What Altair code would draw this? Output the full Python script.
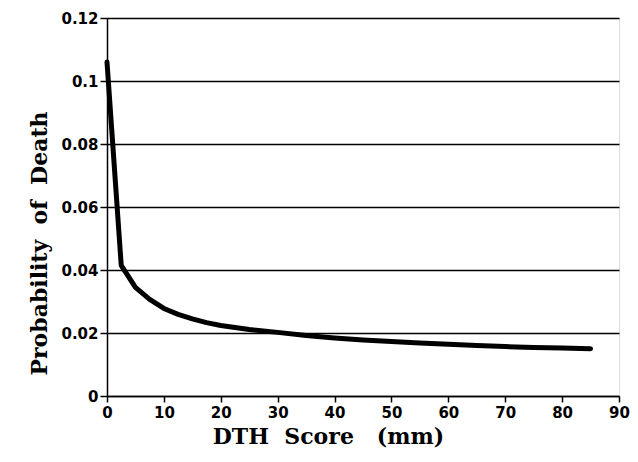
import altair as alt
import pandas as pd

dth_score = [0, 2.5, 5, 7.5, 10, 12.5, 15, 17.5, 20, 25, 30, 35, 40, 45, 50, 55, 60, 65, 70, 75, 80, 85]
prob_death = [0.106, 0.0415, 0.0345, 0.0307, 0.0278, 0.0259, 0.0245, 0.0233, 0.0224, 0.0211, 0.0202,
              0.0192, 0.0184, 0.0178, 0.0173, 0.0168, 0.0164, 0.0160, 0.0157, 0.0154, 0.0152, 0.0150]
x_ticks = [0, 10, 20, 30, 40, 50, 60, 70, 80, 90]
y_ticks = [0, 0.02, 0.04, 0.06, 0.08, 0.1, 0.12]
x_title = "DTH\u00a0\u00a0Score\u00a0\u00a0\u00a0(mm)"
y_title = "Probability\u00a0\u00a0of\u00a0\u00a0Death"

df = pd.DataFrame({"x": dth_score, "y": prob_death})

chart = alt.Chart(df).mark_line(color="black", strokeWidth=5, strokeJoin="round", strokeCap="round").encode(
    x=alt.X("x:Q", scale=alt.Scale(domain=[0, 90], nice=False),
            axis=alt.Axis(values=x_ticks, title=x_title, grid=False,
                          domainColor="black", domainWidth=1.5, tickColor="black", tickWidth=1.5, tickSize=6,
                          labelFont="DejaVu Sans", labelFontWeight="bold", labelFontSize=15, labelColor="black",
                          labelPadding=3, labelFlush=False,
                          titleFont="DejaVu Serif", titleFontWeight="bold", titleFontSize=22, titleColor="black",
                          titleX=221, titleY=47, titleAlign="center", titleBaseline="alphabetic")),
    y=alt.Y("y:Q", scale=alt.Scale(domain=[0, 0.12], nice=False),
            axis=alt.Axis(values=y_ticks, format=".2~f", title=y_title, grid=True,
                          gridColor="black", gridWidth=1.5, gridOpacity=1,
                          domainColor="black", domainWidth=1.5, tickColor="black", tickWidth=1.5, tickSize=7,
                          labelFont="DejaVu Sans", labelFontWeight="bold", labelFontSize=15, labelColor="black",
                          labelPadding=2, labelFlush=False,
                          titleFont="DejaVu Serif", titleFontWeight="bold", titleFontSize=22, titleColor="black",
                          titleX=-61, titleY=225, titleAngle=-90, titleAlign="center", titleBaseline="alphabetic")),
).properties(
    width=512, height=378,
    autosize=alt.AutoSizeParams(type="none"),
    padding={"left": 99, "top": 10, "right": 11, "bottom": 52},
).configure_view(stroke="black", strokeWidth=1.5).configure(background="white")

chart.save("out.html", embed_options={"renderer": "svg", "actions": False})
